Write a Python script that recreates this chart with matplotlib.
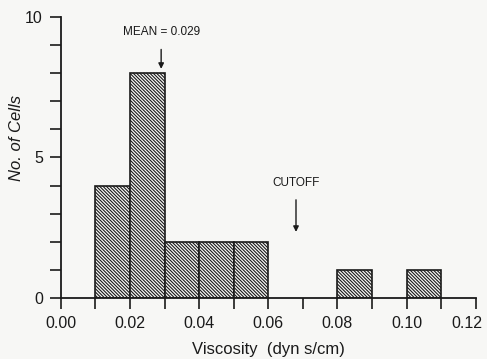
import numpy as np
import matplotlib.pyplot as plt
from matplotlib.ticker import MultipleLocator

# bin edges (left) and counts
bin_left = [0.01, 0.02, 0.03, 0.04, 0.05, 0.08, 0.10]
counts = [4, 8, 2, 2, 2, 1, 1]
bin_width = 0.01
x_max = 0.12

mean_visc = 0.029
cutoff_visc = 0.068

plt.rcParams['font.family'] = ['Liberation Sans', 'DejaVu Sans']
plt.rcParams['hatch.linewidth'] = 0.8
plt.rcParams['hatch.color'] = '#333333'

fig = plt.figure(figsize=(4.87, 3.59), dpi=100, facecolor='#f7f7f5')
ax = fig.add_axes([0.125, 0.170, 0.852, 0.783])
ax.set_facecolor('#f7f7f5')

ax.bar(bin_left, counts, width=bin_width, align='edge', facecolor='#f7f7f5',
       edgecolor='#1a1a1a', linewidth=1.2, hatch='\\' * 10)

ax.set_xlim(0, x_max)
ax.set_ylim(0, 10)
ax.xaxis.set_major_locator(MultipleLocator(0.02))
ax.xaxis.set_minor_locator(MultipleLocator(0.01))
ax.yaxis.set_major_locator(MultipleLocator(5))
ax.yaxis.set_minor_locator(MultipleLocator(1))
# last label is drawn separately so it stays inside the figure
ax.xaxis.set_major_formatter(lambda v, p: '' if v > x_max - 1e-6 else f"{v:.2f}")

for s in ['top', 'right']:
    ax.spines[s].set_visible(False)
for s in ['left', 'bottom']:
    ax.spines[s].set_linewidth(1.3)
    ax.spines[s].set_color('#1a1a1a')

ax.tick_params(which='both', direction='out', length=8, width=1.2, color='#1a1a1a')
ax.tick_params(axis='both', labelsize=11.5, labelcolor='#1a1a1a', pad=5)

ax.annotate(f"{x_max:.2f}", xy=(x_max, 0), xycoords=('data', 'axes fraction'),
            xytext=(5, -13), textcoords='offset points', ha='right', va='top',
            fontsize=11.5, color='#1a1a1a')

ax.set_ylabel('No. of Cells', fontsize=12, style='italic', color='#1a1a1a')
ax.yaxis.set_label_coords(-0.088, 0.57)
ax.set_xlabel('Viscosity  (dyn s/cm)', fontsize=12, color='#1a1a1a', labelpad=8)

# annotations
ax.annotate('MEAN = 0.029', xy=(mean_visc, 8.15), xytext=(mean_visc, 9.45),
            ha='center', va='center', fontsize=8.5, color='#1a1a1a',
            arrowprops=dict(arrowstyle='-|>', color='#1a1a1a', lw=1.0,
                            mutation_scale=8, shrinkA=6, shrinkB=0))
ax.annotate('CUTOFF', xy=(cutoff_visc, 2.35), xytext=(cutoff_visc, 4.1),
            ha='center', va='center', fontsize=8.5, color='#1a1a1a',
            arrowprops=dict(arrowstyle='-|>', color='#1a1a1a', lw=1.0,
                            mutation_scale=8, shrinkA=6, shrinkB=0))

fig.savefig('out.png', dpi=100, facecolor=fig.get_facecolor())
